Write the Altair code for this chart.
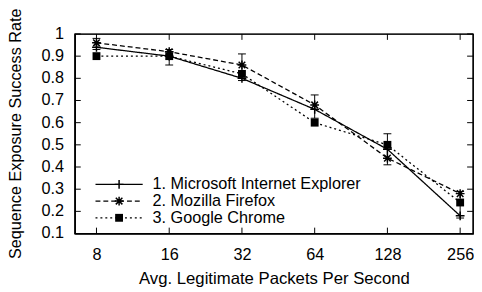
import altair as alt
import pandas as pd

packets = [8, 16, 32, 64, 128, 256]
series_names = ["1. Microsoft Internet Explorer", "2. Mozilla Firefox", "3. Google Chrome"]
ie = [0.94, 0.90, 0.80, 0.66, 0.48, 0.18]
firefox = [0.96, 0.92, 0.86, 0.68, 0.44, 0.28]
chrome = [0.90, 0.90, 0.82, 0.60, 0.50, 0.24]
err_lo = [0.93, 0.86, 0.79, 0.62, 0.41, 0.17]
err_hi = [0.98, 0.93, 0.91, 0.725, 0.55, 0.29]
y_ticks = [0.1, 0.2, 0.3, 0.4, 0.5, 0.6, 0.7, 0.8, 0.9, 1.0]
y_tick_labels = ["0.1", "0.2", "0.3", "0.4", "0.5", "0.6", "0.7", "0.8", "0.9", "1"]

X_DOMAIN = [6.51, 289.4]
Y_DOMAIN = [0.1, 1.0]

FONT = "Liberation Sans"
W, H = 405, 203
TL = 6

rows = []
for name, vals in zip(series_names, [ie, firefox, chrome]):
    for p, v in zip(packets, vals):
        rows.append({"series": name, "packets": p, "rate": v})
df = pd.DataFrame(rows)
err_df = pd.DataFrame({"packets": packets, "lo": err_lo, "hi": err_hi})
xt_df = pd.DataFrame({"packets": packets, "ymin": [Y_DOMAIN[0]] * len(packets),
                      "ymax": [Y_DOMAIN[1]] * len(packets)})
yt_df = pd.DataFrame({"rate": y_ticks, "label": y_tick_labels,
                      "xmin": [X_DOMAIN[0]] * len(y_ticks), "xmax": [X_DOMAIN[1]] * len(y_ticks)})

xscale = alt.Scale(type="log", base=2, domain=X_DOMAIN, nice=False)
yscale = alt.Scale(domain=Y_DOMAIN, nice=False, zero=False)

xenc = alt.X("packets:Q", scale=xscale,
             axis=alt.Axis(values=packets, labelPadding=13, titlePadding=8, domain=True,
                           domainColor="black", domainWidth=1.2, zindex=1),
             title="Avg. Legitimate Packets Per Second")
yenc = alt.Y("rate:Q", scale=yscale,
             axis=alt.Axis(values=y_ticks, labels=False, titlePadding=52, titleFontSize=16.5,
                           titleY=101, domain=True, domainColor="black", domainWidth=1.2, zindex=1),
             title="Sequence Exposure Success Rate")

dash_scale = alt.Scale(domain=series_names, range=[[1, 0], [5, 3], [2, 3]])

lines = alt.Chart(df).mark_line(color="black", strokeWidth=1.3, clip=False).encode(
    x=xenc, y=yenc,
    strokeDash=alt.StrokeDash("series:N", scale=dash_scale, legend=None),
    detail="series:N",
)

frame = alt.Chart(pd.DataFrame({"k": [0]})).mark_rect(
    fill="transparent", stroke="#000000", strokeWidth=1.2, fillOpacity=0, strokeOpacity=1,
    clip=False).encode(
    x=alt.value(0), x2=alt.value(W), y=alt.value(0), y2=alt.value(H))

PLUS = "M-1,0L1,0M0,-1L0,1"
STAR = "M-1,0L1,0M0,-1L0,1M-0.75,-0.75L0.75,0.75M-0.75,0.75L0.75,-0.75"

pts = alt.Chart(df).transform_filter(
    alt.FieldOneOfPredicate(field="series", oneOf=series_names[:2])
).mark_point(filled=False, color="black", strokeWidth=1.5, size=80, opacity=1).encode(
    x="packets:Q", y="rate:Q",
    shape=alt.Shape("series:N", scale=alt.Scale(domain=series_names[:2], range=[PLUS, STAR]), legend=None),
)
sq = alt.Chart(df).transform_filter(
    alt.FieldEqualPredicate(field="series", equal=series_names[2])
).mark_square(color="black", size=64, opacity=1).encode(x="packets:Q", y="rate:Q")

ebar = alt.Chart(err_df).mark_rule(color="black", strokeWidth=1).encode(
    x="packets:Q", y="lo:Q", y2="hi:Q")
cap_lo = alt.Chart(err_df).mark_rule(color="black", strokeWidth=1, xOffset=-4, x2Offset=4).encode(
    x="packets:Q", x2="packets:Q", y="lo:Q")
cap_hi = alt.Chart(err_df).mark_rule(color="black", strokeWidth=1, xOffset=-4, x2Offset=4).encode(
    x="packets:Q", x2="packets:Q", y="hi:Q")

tb = alt.Chart(xt_df).mark_rule(color="black", strokeWidth=1, y2Offset=-TL, clip=False).encode(
    x="packets:Q", y="ymin:Q", y2="ymin:Q")
tt = alt.Chart(xt_df).mark_rule(color="black", strokeWidth=1, y2Offset=TL, clip=False).encode(
    x="packets:Q", y="ymax:Q", y2="ymax:Q")
tl = alt.Chart(yt_df).mark_rule(color="black", strokeWidth=1, x2Offset=TL, clip=False).encode(
    y="rate:Q", x="xmin:Q", x2="xmin:Q")
tr = alt.Chart(yt_df).mark_rule(color="black", strokeWidth=1, x2Offset=-TL, clip=False).encode(
    y="rate:Q", x="xmax:Q", x2="xmax:Q")
ylab = alt.Chart(yt_df).mark_text(align="right", baseline="middle", font=FONT, fontSize=16.5,
                                  color="black").encode(
    y="rate:Q", x=alt.value(-11), text="label:N")

legend_layers = []
dashes = [[1, 0], [5, 3], [2, 3]]
for i, name in enumerate(series_names):
    ypix = 153 + 17 * i
    ldf = pd.DataFrame({"label": [name]})
    legend_layers.append(alt.Chart(ldf).mark_rule(color="black", strokeWidth=1.3, strokeDash=dashes[i]).encode(
        x=alt.value(21), x2=alt.value(69), y=alt.value(ypix)))
    if i < 2:
        legend_layers.append(alt.Chart(ldf).mark_point(filled=False, color="black", strokeWidth=1.5, size=80,
                                                       opacity=1, shape=[PLUS, STAR][i]).encode(
            x=alt.value(45), y=alt.value(ypix)))
    else:
        legend_layers.append(alt.Chart(ldf).mark_square(color="black", size=64, opacity=1).encode(
            x=alt.value(45), y=alt.value(ypix)))
    legend_layers.append(alt.Chart(ldf).mark_text(align="left", baseline="middle", font=FONT, fontSize=16.5,
                                                  color="black").encode(
        x=alt.value(79), y=alt.value(ypix), text="label:N"))

chart = alt.layer(lines, frame, ebar, cap_lo, cap_hi, pts, sq, tb, tt, tl, tr, ylab,
                  *legend_layers).properties(
    width=W, height=H,
    autosize=alt.AutoSizeParams(type="none"),
    padding={"left": 68, "top": 24, "right": 1, "bottom": 54},
    background="white",
).configure_view(stroke="black", strokeWidth=1.2, strokeOpacity=1).configure_axis(
    ticks=False, grid=False,
    labelFontSize=16.5, labelFont=FONT, labelColor="black",
    titleFontSize=17, titleFont=FONT, titleFontWeight="normal", titleColor="black",
    labelFlush=False, labelOverlap=False,
)

chart.save("out.html", embed_options={"renderer": "svg", "actions": False})
